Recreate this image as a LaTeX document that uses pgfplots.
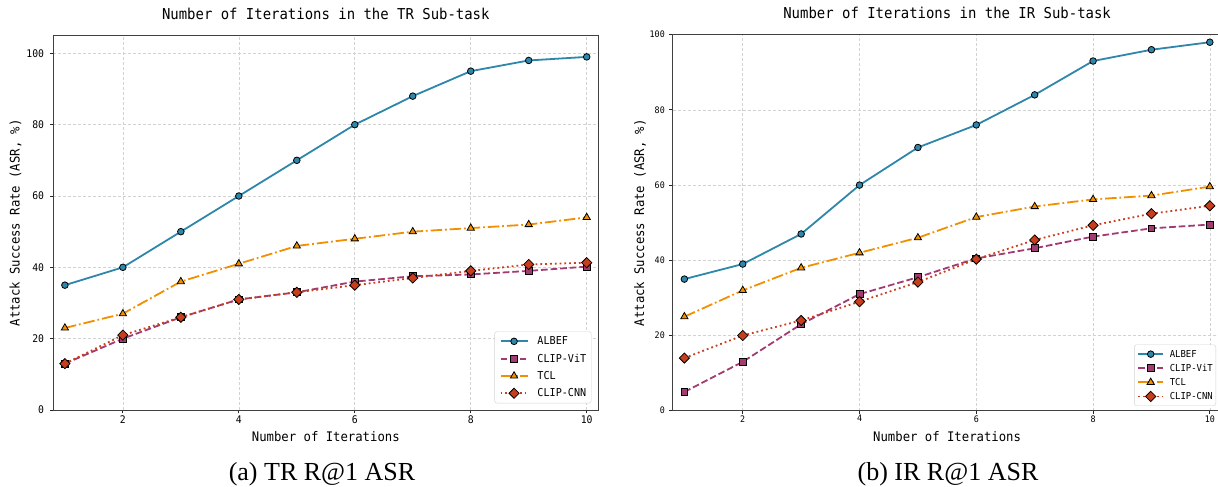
\documentclass[border=0pt]{standalone}
\usepackage{fontspec}
\setmainfont{Liberation Serif}
\newfontfamily\hei[FakeStretch=0.93]{DejaVu Sans Mono}
\usepackage{pgfplots}
\pgfplotsset{compat=1.18}

\definecolor{cA}{HTML}{2E86AB}
\definecolor{cB}{HTML}{A23B72}
\definecolor{cC}{HTML}{F18F01}
\definecolor{cD}{HTML}{C73E1D}

\pgfplotsset{
  base/.style={
    scale only axis,
    xmin=0.8, xmax=10.2, ymin=0,
    xtick={2,4,6,8,10},
    ytick={0,20,40,60,80,100},
    tick align=outside,
    xtick pos=left, ytick pos=left,
    major tick length=3.5pt,
    tick style={black!85, line width=0.8pt},
    axis line style={black!75, line width=0.9pt},
    grid=major,
    major grid style={gray!35, line width=0.6pt, dash pattern=on 3pt off 2pt},
    /pgf/number format/assume math mode=true,
    title style={font=\hei\fontsize{15}{16}\selectfont, anchor=center},
    xlabel style={font=\hei\fontsize{13.2}{14}\selectfont, anchor=center},
    ylabel style={font=\hei\fontsize{13.2}{14}\selectfont, anchor=center, rotate=0},
    legend cell align=left,
  },
  sA/.style={cA, solid, line width=1.8pt, mark=*, mark size=3.3pt,
    mark options={solid, fill=cA, draw=black, line width=0.8pt}},
  sB/.style={cB, line width=1.8pt, dash pattern=on 6.7pt off 2.9pt, mark=square*, mark size=3.4pt,
    mark options={solid, fill=cB, draw=black, line width=0.8pt}},
  sC/.style={cC, line width=1.8pt, dash pattern=on 11.5pt off 2.9pt on 1.8pt off 2.9pt, mark=triangle*, mark size=4.2pt,
    mark options={solid, fill=cC, draw=black, line width=0.8pt}},
  sD/.style={cD, line width=1.8pt, dash pattern=on 1.8pt off 3pt, mark=square*, mark size=3.6pt,
    mark options={solid, rotate=45, fill=cD, draw=black, line width=0.8pt}},
}

\begin{document}
\begin{tikzpicture}
\useasboundingbox (0pt,0pt) rectangle (1218pt,487pt);

% ---------------- (a) TR ----------------
\begin{axis}[base,
  at={(53.3pt,77pt)}, anchor=south west,
  width=545pt, height=374.5pt,
  ymax=105,
  title={Number of Iterations in the TR Sub-task},
  title style={at={([yshift=15.5pt]axis description cs:0.5,1)}},
  xlabel={Number of Iterations},
  xlabel style={at={([yshift=-27pt]axis description cs:0.5,0)}},
  ylabel={Attack Success Rate (ASR, \%)},
  ylabel style={at={([xshift=-37.8pt]axis description cs:0,0.5)}},
  xticklabel style={font=\hei\fontsize{10.5}{12}\selectfont, inner sep=0pt, yshift=-2.5pt},
  yticklabel style={font=\hei\fontsize{10.5}{12}\selectfont, inner sep=0pt, xshift=-5.5pt},
  legend image code/.code={\draw[mark repeat=2,mark phase=2] plot coordinates {(0pt,0pt)(13.5pt,0pt)(27pt,0pt)};},
  legend style={at={(rel axis cs:1,0)}, anchor=south east, xshift=-6.8pt, yshift=6.7pt,
    draw=gray!35, rounded corners=2.5pt, fill=white,
    font=\hei\fontsize{10.9}{12}\selectfont,
    inner xsep=5pt, inner ysep=1.2pt, row sep=0pt, column sep=9pt,
    nodes={inner xsep=0pt, inner ysep=4.15pt, text height=8pt, text depth=1pt}},
]
\addplot[sA] coordinates {(1,35)(2,40)(3,50)(4,60)(5,70)(6,80)(7,88)(8,95)(9,98)(10,99)};
\addlegendentry{ALBEF}
\addplot[sB] coordinates {(1,13)(2,20)(3,26)(4,31)(5,33)(6,36)(7,37.5)(8,38)(9,39)(10,40.2)};
\addlegendentry{CLIP-ViT}
\addplot[sC] coordinates {(1,23)(2,27)(3,36)(4,41)(5,46)(6,48)(7,50)(8,51)(9,52)(10,54)};
\addlegendentry{TCL}
\addplot[sD] coordinates {(1,13)(2,21)(3,26)(4,31)(5,33)(6,35)(7,37)(8,39)(9,40.8)(10,41.3)};
\addlegendentry{CLIP-CNN}
\end{axis}

% ---------------- (b) IR ----------------
\begin{axis}[base,
  at={(672.7pt,76.3pt)}, anchor=south west,
  width=548.8pt, height=376pt,
  ymax=100,
  title={Number of Iterations in the IR Sub-task},
  title style={at={([yshift=15.5pt]axis description cs:0.5,1)}},
  xlabel={Number of Iterations},
  xlabel style={at={([yshift=-26.3pt]axis description cs:0.5,0)}},
  ylabel={Attack Success Rate (ASR, \%)},
  ylabel style={at={([xshift=-32.7pt]axis description cs:0,0.5)}},
  xticklabel style={font=\hei\fontsize{9}{10}\selectfont, inner sep=0pt, yshift=-1pt},
  yticklabel style={font=\hei\fontsize{9}{10}\selectfont, inner sep=0pt, xshift=-4.2pt},
  legend image code/.code={\draw[mark repeat=2,mark phase=2] plot coordinates {(0pt,0pt)(12.5pt,0pt)(25pt,0pt)};},
  legend style={at={(rel axis cs:1,0)}, anchor=south east, xshift=-5.5pt, yshift=4.7pt,
    draw=gray!35, rounded corners=2.5pt, fill=white,
    font=\hei\fontsize{9.6}{11}\selectfont,
    inner xsep=3pt, inner ysep=2.3pt, row sep=0pt, column sep=5.7pt,
    nodes={inner xsep=0pt, inner ysep=3.05pt, text height=7pt, text depth=1pt}},
]
\addplot[sA] coordinates {(1,35)(2,39)(3,47)(4,60)(5,70)(6,76)(7,84)(8,93)(9,96)(10,98)};
\addlegendentry{ALBEF}
\addplot[sB] coordinates {(1,5)(2,13)(3,23)(4,31)(5,35.5)(6,40.5)(7,43.2)(8,46.3)(9,48.5)(10,49.5)};
\addlegendentry{CLIP-ViT}
\addplot[sC] coordinates {(1,25)(2,32)(3,38)(4,42)(5,46)(6,51.5)(7,54.3)(8,56.2)(9,57.2)(10,59.6)};
\addlegendentry{TCL}
\addplot[sD] coordinates {(1,14)(2,20)(3,24)(4,29)(5,34.2)(6,40.3)(7,45.4)(8,49.3)(9,52.4)(10,54.5)};
\addlegendentry{CLIP-CNN}
\end{axis}

\node[font=\fontsize{26}{28}\selectfont, anchor=base] at (322pt,6.5pt) {(a) TR R@1 ASR};
\node[font=\fontsize{26}{28}\selectfont, anchor=base] at (948pt,6.5pt) {(b) IR R@1 ASR};
\end{tikzpicture}
\end{document}
